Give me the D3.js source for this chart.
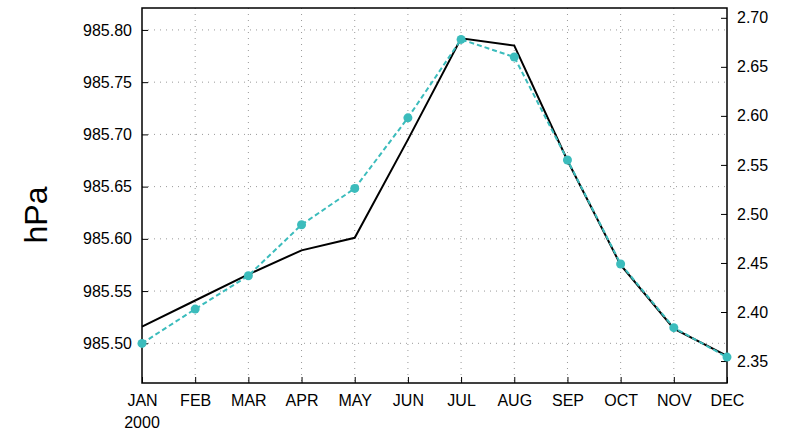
<!DOCTYPE html>
<html><head><meta charset="utf-8">
<script src="https://cdn.jsdelivr.net/npm/d3@7"></script>
<style>body{margin:0;background:#fff}text{font-family:"Liberation Sans",Arial,sans-serif}</style>
</head><body><svg id="c" width="791" height="440"></svg>
<script>
const months = ["JAN","FEB","MAR","APR","MAY","JUN","JUL","AUG","SEP","OCT","NOV","DEC"];
const pressure = [985.516,985.541,985.566,985.589,985.601,985.695,985.792,985.785,985.675,985.575,985.514,985.488];
const second = [2.368,2.403,2.437,2.489,2.526,2.598,2.678,2.660,2.555,2.449,2.384,2.354];
const leftTicks = [985.50,985.55,985.60,985.65,985.70,985.75,985.80];
const rightTicks = [2.35,2.40,2.45,2.50,2.55,2.60,2.65,2.70];

const svg = d3.select("#c");
const L = 142, R = 727, T = 8, B = 383;
const x = d3.scalePoint().domain(months).range([L, R]);
const yL = d3.scaleLinear().domain([985.462, 985.821]).range([B, T]);
const yR = d3.scaleLinear().domain([2.3276, 2.710]).range([B, T]);

// grid
const g = svg.append("g").attr("stroke", "#999").attr("stroke-dasharray", "1,5").attr("stroke-width", 1);
months.slice(1, -1).forEach(m => g.append("line").attr("x1", x(m)).attr("x2", x(m)).attr("y1", T).attr("y2", B));
leftTicks.forEach(v => g.append("line").attr("x1", L).attr("x2", R).attr("y1", yL(v)).attr("y2", yL(v)));

// axes
svg.append("g").attr("transform", `translate(${L},0)`)
  .call(d3.axisLeft(yL).tickValues(leftTicks).tickFormat(d3.format(".2f")).tickSizeInner(-6).tickSizeOuter(0).tickPadding(10));
svg.append("g").attr("transform", `translate(${R},0)`)
  .call(d3.axisRight(yR).tickValues(rightTicks).tickFormat(d3.format(".2f")).tickSizeInner(-6).tickSizeOuter(0).tickPadding(10));
svg.append("g").attr("transform", `translate(0,${B})`)
  .call(d3.axisBottom(x).tickSizeInner(-6).tickSizeOuter(0).tickPadding(12));
svg.selectAll(".domain").remove();
svg.selectAll(".tick text").attr("font-size", 16).attr("fill", "#000");
svg.selectAll(".tick line").attr("stroke", "#000");
svg.append("rect").attr("x", L).attr("y", T).attr("width", R - L).attr("height", B - T)
  .attr("fill", "none").attr("stroke", "#000").attr("stroke-width", 1.5);
svg.append("text").attr("x", x("JAN")).attr("y", 428).attr("text-anchor", "middle").attr("font-size", 16).text("2000");
svg.append("text").attr("transform", "translate(47,215) rotate(-90)").attr("text-anchor", "middle")
  .attr("font-size", 32).text("hPa");

// lines
svg.append("path").datum(pressure).attr("fill", "none").attr("stroke", "#000").attr("stroke-width", 2)
  .attr("d", d3.line().x((d, i) => x(months[i])).y(d => yL(d)));
const cyan = "#3bbcbc";
svg.append("path").datum(second).attr("fill", "none").attr("stroke", cyan).attr("stroke-width", 2)
  .attr("stroke-dasharray", "5,3")
  .attr("d", d3.line().x((d, i) => x(months[i])).y(d => yR(d)));
svg.selectAll("circle").data(second).join("circle")
  .attr("cx", (d, i) => x(months[i])).attr("cy", d => yR(d)).attr("r", 4.5).attr("fill", cyan);
</script></body></html>
